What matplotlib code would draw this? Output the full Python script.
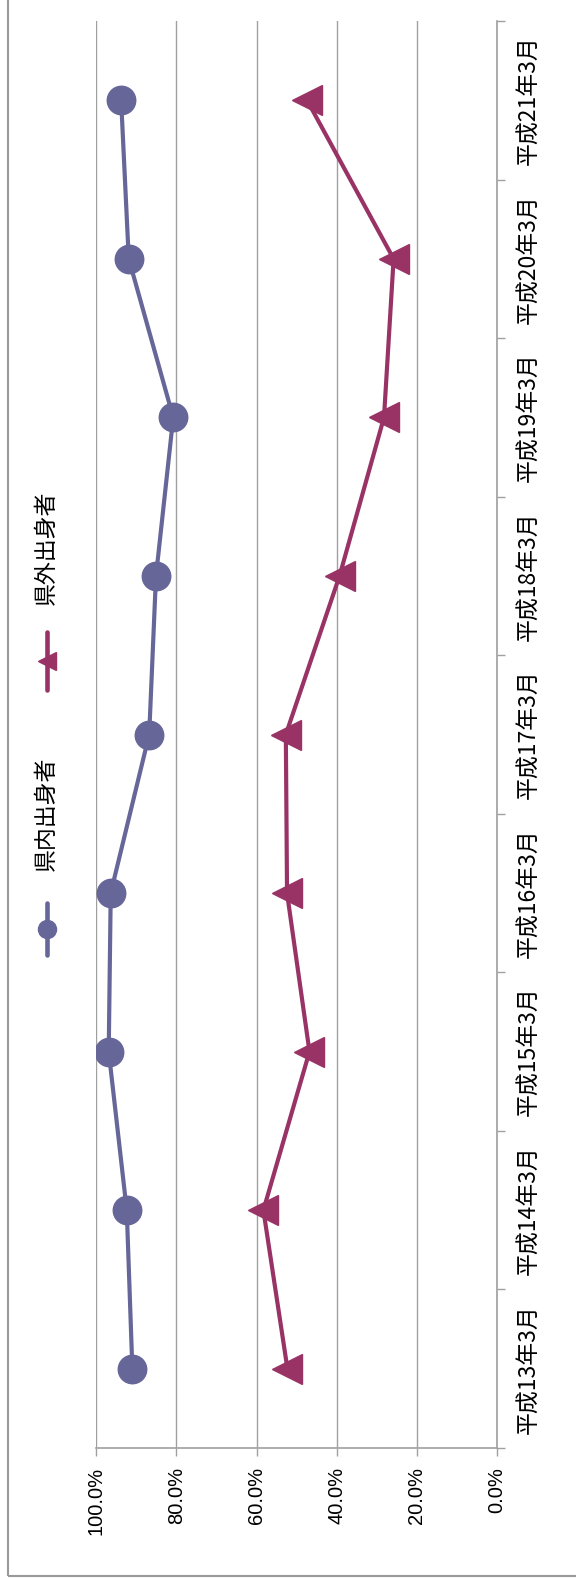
import matplotlib.pyplot as plt
from matplotlib.lines import Line2D
from matplotlib.patches import Rectangle
from matplotlib.ticker import FixedLocator, NullFormatter
import numpy as np

plt.rcParams['font.family'] = ['Noto Sans CJK JP', 'DejaVu Sans']

categories = ['平成13年3月', '平成14年3月', '平成15年3月', '平成16年3月', '平成17年3月',
              '平成18年3月', '平成19年3月', '平成20年3月', '平成21年3月']
kennai = [91.0, 92.4, 96.9, 96.4, 86.8, 85.1, 80.8, 91.9, 93.8]   # 県内出身者 (%)
kengai = [52.3, 58.3, 46.8, 52.4, 52.7, 39.3, 28.2, 25.8, 47.4]   # 県外出身者 (%)
pct_ticks = [100, 80, 60, 40, 20, 0]

c_in = '#666699'
c_out = '#993366'
grid_c = '#a0a0a0'

W, H = 576, 1583
fig = plt.figure(figsize=(W / 100, H / 100), dpi=100)
# plot area in pixels: left 96, right 497, top 21, bottom 1448
ax = fig.add_axes([96.3 / W, 1 - 1448 / H, (497 - 96.3) / W, (1448 - 21) / H])

pos = np.arange(len(categories))
ax.plot(kennai, pos, color=c_in, lw=3, marker='o', ms=20.5, mec=c_in, mfc=c_in, zorder=3)
ax.plot(kengai, pos, color=c_out, lw=3, marker='<', ms=21, mec=c_out, mfc=c_out, zorder=3)

ax.set_xlim(100, 0)
ax.set_ylim(-0.5, len(categories) - 0.5)

# percent axis along the bottom, rotated labels
ax.set_xticks(pct_ticks)
ax.set_xticklabels([f'{t:.1f}%' for t in pct_ticks], rotation=90, va='top', ha='center',
                   family='Liberation Sans', fontsize=14.5)
ax.tick_params(axis='x', direction='out', length=5.5, width=1, color=grid_c, pad=8)
ax.grid(axis='x', color=grid_c, lw=1)
ax.set_axisbelow(True)

# category axis on the right, ticks between categories
ax.yaxis.tick_right()
ax.yaxis.set_major_locator(FixedLocator(np.arange(-0.5, len(categories), 1)))
ax.yaxis.set_major_formatter(NullFormatter())
ax.yaxis.set_minor_locator(FixedLocator(pos))
ax.set_yticklabels(categories, minor=True, rotation=90, va='center', ha='left', fontsize=16.5)
ax.tick_params(axis='y', which='major', direction='out', length=6, width=1, color=grid_c)
ax.tick_params(axis='y', which='minor', length=0, pad=15)

for s in ['top', 'left']:
    ax.spines[s].set_visible(False)
for s in ['bottom', 'right']:
    ax.spines[s].set_color(grid_c)
    ax.spines[s].set_linewidth(1.2)

# legend drawn by hand, rotated with the rest of the chart
lx = 46.7 / W
def legend_item(y0, y1, marker, ms, color, label, ty):
    ym = (y0 + y1) / 2
    fig.add_artist(Line2D([lx, lx], [1 - y0 / H, 1 - y1 / H], color=color, lw=3.3,
                          transform=fig.transFigure, solid_capstyle='round'))
    fig.add_artist(Line2D([lx], [1 - ym / H], marker=marker, ms=ms, color=color,
                          transform=fig.transFigure))
    fig.text(lx, 1 - ty / H, label, rotation=90, ha='center', va='bottom', fontsize=16.5)

legend_item(903, 955, 'o', 13, c_in, '県内出身者', 871)
legend_item(632, 690, '<', 13, c_out, '県外出身者', 605)

# chart area border (left and bottom edges visible)
fig.add_artist(Rectangle((7.5 / W, 1 - 1575.5 / H), 2, 2, transform=fig.transFigure,
                         fill=False, edgecolor='#999999', lw=1.5))

fig.savefig('out.png', dpi=100, facecolor='white')
